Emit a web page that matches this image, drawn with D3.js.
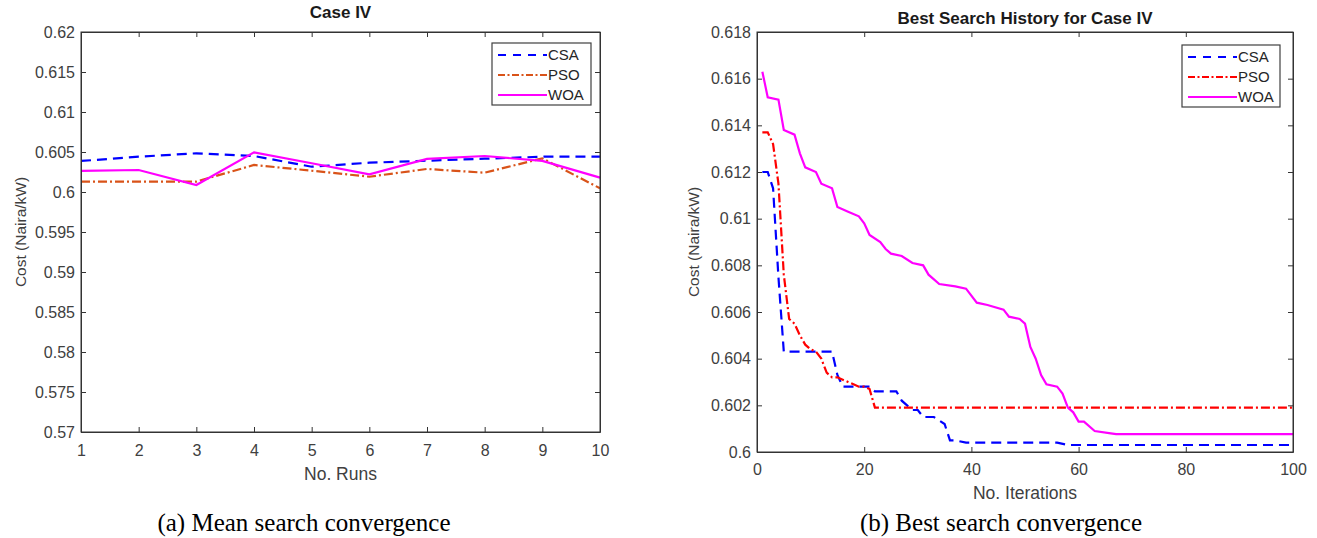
<!DOCTYPE html>
<html><head><meta charset="utf-8">
<script src="https://cdn.jsdelivr.net/npm/d3@7"></script>
<style>
body{margin:0;background:#fff;}
text{font-family:"Liberation Sans",Arial,sans-serif;}
</style></head>
<body><svg id="c" width="1317" height="538"></svg>
<script>
// ---------- data: (a) mean search convergence ----------
const runs = [1,2,3,4,5,6,7,8,9,10];
const meanCSA = [0.60388,0.60441,0.60484,0.60450,0.60316,0.60366,0.60391,0.60416,0.60441,0.60441];
const meanPSO = [0.60129,0.60129,0.60129,0.60338,0.60266,0.60191,0.60288,0.60241,0.60421,0.60046];
const meanWOA = [0.60263,0.60275,0.60088,0.60496,0.60359,0.60221,0.60413,0.60450,0.60388,0.60179];
const leftYTicks = [0.57,0.575,0.58,0.585,0.59,0.595,0.6,0.605,0.61,0.615,0.62];
const leftYLabels = ["0.57","0.575","0.58","0.585","0.59","0.595","0.6","0.605","0.61","0.615","0.62"];

// ---------- data: (b) best search history ----------
const csaIter = [1,2,3,4,5,14,15,16,21,22,26,27,29,30,31,33,35,36,37,39,56,58,100];
const csaCost = [0.6120,0.6120,0.6113,0.6075,0.6043,0.6043,0.6033,0.6028,0.6028,0.6026,0.6026,0.6022,0.6018,0.6018,0.6015,0.6015,0.6012,0.6005,0.6005,0.6004,0.6004,0.6003,0.6003];
const psoIter = [1,2,3,4,5,6,7,8,9,10,11,12,13,14,15,16,17,18,19,20,21,22,100];
const psoCost = [0.6137,0.6137,0.6132,0.6115,0.6076,0.6057,0.6055,0.6050,0.6046,0.6044,0.6043,0.6040,0.6034,0.6032,0.6032,0.6031,0.6030,0.6029,0.6028,0.6028,0.6027,0.6019,0.6019];
const woaIter = [1,2,4,5,7,8,9,11,12,14,15,17,19,20,21,23,24,25,27,29,31,32,34,37,39,41,43,46,47,49,50,51,52,53,54,56,57,58,59,60,61,63,66,67,100];
const woaCost = [0.6163,0.6152,0.6151,0.6138,0.6136,0.6128,0.6122,0.6120,0.6115,0.6113,0.6105,0.6103,0.6101,0.6098,0.6093,0.6090,0.6087,0.6085,0.6084,0.6081,0.6080,0.6076,0.6072,0.6071,0.6070,0.6064,0.6063,0.6061,0.6058,0.6057,0.6055,0.6045,0.6040,0.6033,0.6029,0.6028,0.6025,0.6019,0.6017,0.6013,0.6013,0.6009,0.6008,0.60077,0.60077];
const rightXTicks = [0,20,40,60,80,100];
const rightYTicks = [0.6,0.602,0.604,0.606,0.608,0.61,0.612,0.614,0.616,0.618];
const rightYLabels = ["0.6","0.602","0.604","0.606","0.608","0.61","0.612","0.614","0.616","0.618"];

const names = ["CSA","PSO","WOA"];

const svg = d3.select("#c");
const axisColor = "#333333", labColor = "#404040";

function drawAxes(g, x, y, xTicks, yTicks, yLabels, w, h, xPad) {
  g.append("rect").attr("x",0).attr("y",0).attr("width",w).attr("height",h)
    .attr("fill","none").attr("stroke",axisColor).attr("stroke-width",1);
  const bottom = d3.axisBottom(x).tickValues(xTicks).tickSizeInner(-5).tickSizeOuter(0).tickPadding(xPad).tickFormat(d3.format("d"));
  const top = d3.axisTop(x).tickValues(xTicks).tickSizeInner(-5).tickSizeOuter(0).tickFormat("");
  const left = d3.axisLeft(y).tickValues(yTicks).tickSizeInner(-5).tickSizeOuter(0).tickPadding(6).tickFormat((d,i)=>yLabels[i]);
  const right = d3.axisRight(y).tickValues(yTicks).tickSizeInner(-5).tickSizeOuter(0).tickFormat("");
  [[bottom,`translate(0,${h})`],[top,"translate(0,0)"],[left,"translate(0,0)"],[right,`translate(${w},0)`]].forEach(([ax,t])=>{
    const a = g.append("g").attr("transform",t).call(ax);
    a.select(".domain").attr("stroke",axisColor);
    a.selectAll("line").attr("stroke",axisColor);
    a.selectAll("text").attr("fill",labColor).style("font-size","16px").style("font-family","'Liberation Sans',Arial,sans-serif");
  });
}

function drawLegend(g, x0, y0, w, h, colors, dashes, rowY) {
  g.append("rect").attr("x",x0).attr("y",y0).attr("width",w).attr("height",h)
    .attr("fill","#fff").attr("stroke","#404040").attr("stroke-width",1.2);
  names.forEach((n,i)=>{
    g.append("line").attr("x1",x0+6).attr("x2",x0+55).attr("y1",rowY[i]).attr("y2",rowY[i])
      .attr("stroke",colors[i]).attr("stroke-width",2).attr("stroke-dasharray",dashes[i]);
    g.append("text").attr("x",x0+56).attr("y",rowY[i]+5).text(n)
      .attr("fill","#262626").style("font-size","15px");
  });
}

const serif = "'Liberation Serif','Times New Roman',serif";

// ---------------- Chart (a) ----------------
{
  const L=81, T=32, W=519, H=400;
  const g = svg.append("g").attr("transform",`translate(${L},${T})`);
  const x = d3.scaleLinear().domain([1,10]).range([0,W]);
  const y = d3.scaleLinear().domain([0.57,0.62]).range([H,0]);
  const colors = ["#0000ff","#D95319","#ff00ff"];
  const dashes = ["10,6","9,3,2,3",null];
  const series = [meanCSA, meanPSO, meanWOA];
  const line = d3.line().x((d,i)=>x(runs[i])).y(d=>y(d));
  series.forEach((s,i)=>{
    g.append("path").datum(s).attr("d",line).attr("fill","none")
      .attr("stroke",colors[i]).attr("stroke-width",2.2).attr("stroke-dasharray",dashes[i]);
  });
  drawAxes(g,x,y,runs,leftYTicks,leftYLabels,W,H,13);
  drawLegend(svg, 492, 43, 99, 62, colors, ["8,7","7,2.5,2,2.5",null], [55,75,95]);
  svg.append("text").attr("x",L+W/2).attr("y",18).attr("text-anchor","middle")
    .style("font-size","17px").style("font-weight","bold").attr("fill","#1a1a1a").text("Case IV");
  svg.append("text").attr("x",L+W/2).attr("y",480).attr("text-anchor","middle")
    .style("font-size","17.5px").attr("fill",labColor).text("No. Runs");
  svg.append("text").attr("transform",`translate(26,${T+H/2}) rotate(-90)`).attr("text-anchor","middle")
    .style("font-size","15.5px").attr("fill",labColor).text("Cost (Naira/kW)");
  svg.append("text").attr("x",304).attr("y",531).attr("text-anchor","middle")
    .style("font-family",serif).style("font-size","25px").attr("fill","#000")
    .text("(a) Mean search convergence");
}

// ---------------- Chart (b) ----------------
{
  const L=757, T=32, W=536, H=420;
  const g = svg.append("g").attr("transform",`translate(${L},${T})`);
  const x = d3.scaleLinear().domain([0,100]).range([0,W]);
  const y = d3.scaleLinear().domain([0.6,0.618]).range([H,0]);
  const colors = ["#0000ff","#ff0000","#ff00ff"];
  const dashes = ["10,6","9,3,2,3",null];
  const data = [[csaIter,csaCost],[psoIter,psoCost],[woaIter,woaCost]];
  data.forEach(([it,c],k)=>{
    const pts = it.map((v,i)=>[v,c[i]]);
    g.append("path").datum(pts).attr("d",d3.line().x(d=>x(d[0])).y(d=>y(d[1])))
      .attr("fill","none").attr("stroke",colors[k]).attr("stroke-width",2.2).attr("stroke-dasharray",dashes[k]);
  });
  drawAxes(g,x,y,rightXTicks,rightYTicks,rightYLabels,W,H,12);
  drawLegend(svg, 1182, 45, 98, 62, colors, ["8,7","7,2.5,2,2.5",null], [57,77,97]);
  svg.append("text").attr("x",L+W/2).attr("y",24).attr("text-anchor","middle")
    .style("font-size","17px").style("font-weight","bold").attr("fill","#1a1a1a").text("Best Search History for Case IV");
  svg.append("text").attr("x",L+W/2).attr("y",499).attr("text-anchor","middle")
    .style("font-size","17.5px").attr("fill",labColor).text("No. Iterations");
  svg.append("text").attr("transform",`translate(699,${T+H/2}) rotate(-90)`).attr("text-anchor","middle")
    .style("font-size","15.5px").attr("fill",labColor).text("Cost (Naira/kW)");
  svg.append("text").attr("x",1001).attr("y",531).attr("text-anchor","middle")
    .style("font-family",serif).style("font-size","25px").attr("fill","#000")
    .text("(b) Best search convergence");
}
</script></body></html>
